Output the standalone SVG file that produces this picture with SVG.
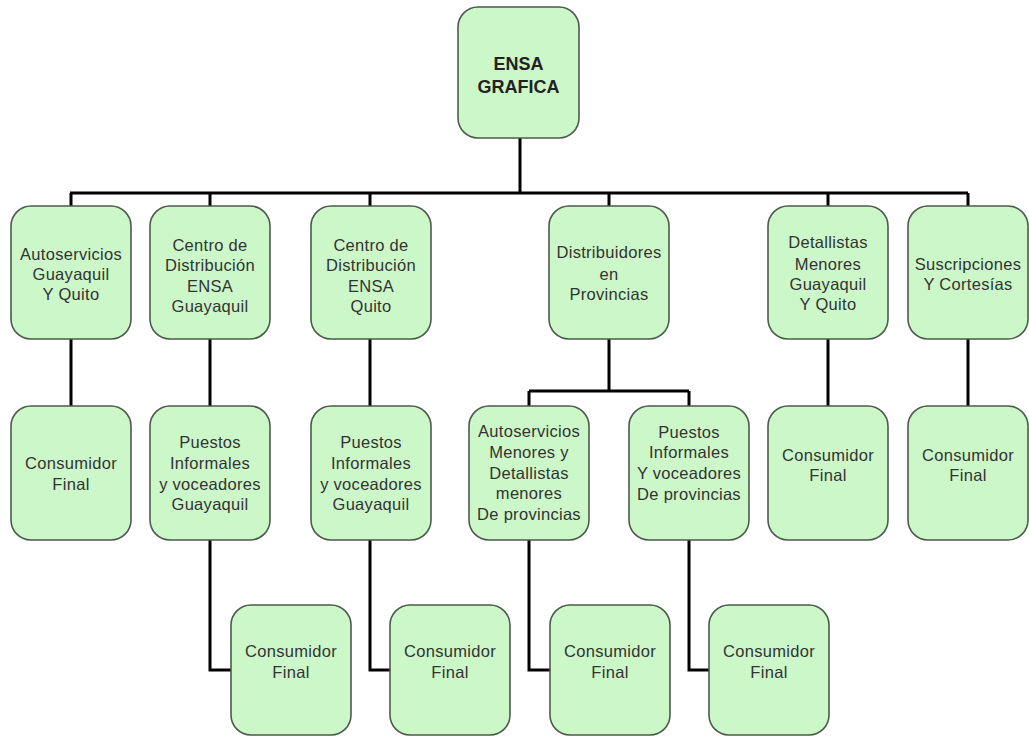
<svg xmlns="http://www.w3.org/2000/svg" width="1029" height="736" viewBox="0 0 1029 736">
<style>
.box{fill:#ccf7c8;stroke:#4d5a4d;stroke-width:1.6}
.t{font-family:"Liberation Sans",Arial,sans-serif;font-size:16.5px;fill:#333;text-anchor:middle;letter-spacing:0.3px}
.b{font-family:"Liberation Sans",Arial,sans-serif;font-size:18px;font-weight:bold;fill:#222;text-anchor:middle}
.c{fill:none;stroke:#000;stroke-width:3}
</style>
<rect width="1029" height="736" fill="#fff"/>
<g id="connectors">
<path class="c" d="M520 138V193M70 193H968M71 193V206M210 193V206M370 193V206M609 193V206M828 193V206M968 193V206"/>
<path class="c" d="M71 339V406M210 339V406M370 339V406M828 339V406M968 339V406"/>
<path class="c" d="M609 339V391M529 391H689M529 391V406M689 391V406"/>
<path class="c" d="M210 540V670H231M370 540V670H390M529 540V670H550M689 540V670H709"/>
</g>
<g id="n0"><rect class="box" x="458" y="7" width="121" height="131" rx="20"/><text class="b" x="518.5" y="70">ENSA</text><text class="b" x="518.5" y="93">GRAFICA</text></g>
<g id="n1"><rect class="box" x="11" y="206" width="120" height="133" rx="20"/><text class="t" x="71" y="260">Autoservicios</text><text class="t" x="71" y="280">Guayaquil</text><text class="t" x="71" y="300">Y Quito</text></g>
<g id="n2"><rect class="box" x="150" y="206" width="120" height="133" rx="20"/><text class="t" x="210" y="251">Centro de</text><text class="t" x="210" y="271">Distribución</text><text class="t" x="210" y="292">ENSA</text><text class="t" x="210" y="312">Guayaquil</text></g>
<g id="n3"><rect class="box" x="311" y="206" width="120" height="133" rx="20"/><text class="t" x="371" y="251">Centro de</text><text class="t" x="371" y="271">Distribución</text><text class="t" x="371" y="292">ENSA</text><text class="t" x="371" y="312">Quito</text></g>
<g id="n4"><rect class="box" x="549" y="206" width="120" height="133" rx="20"/><text class="t" x="609" y="258">Distribuidores</text><text class="t" x="609" y="280">en</text><text class="t" x="609" y="300">Provincias</text></g>
<g id="n5"><rect class="box" x="768" y="206" width="120" height="133" rx="20"/><text class="t" x="828" y="248">Detallistas</text><text class="t" x="828" y="270">Menores</text><text class="t" x="828" y="290">Guayaquil</text><text class="t" x="828" y="310">Y Quito</text></g>
<g id="n6"><rect class="box" x="908" y="206" width="120" height="133" rx="20"/><text class="t" x="968" y="270">Suscripciones</text><text class="t" x="968" y="290">Y Cortesías</text></g>
<g id="n7"><rect class="box" x="11" y="406" width="120" height="134" rx="20"/><text class="t" x="71" y="469">Consumidor</text><text class="t" x="71" y="490">Final</text></g>
<g id="n8"><rect class="box" x="150" y="406" width="120" height="134" rx="20"/><text class="t" x="210" y="448">Puestos</text><text class="t" x="210" y="469">Informales</text><text class="t" x="210" y="490">y voceadores</text><text class="t" x="210" y="510">Guayaquil</text></g>
<g id="n9"><rect class="box" x="311" y="406" width="120" height="134" rx="20"/><text class="t" x="371" y="448">Puestos</text><text class="t" x="371" y="469">Informales</text><text class="t" x="371" y="490">y voceadores</text><text class="t" x="371" y="510">Guayaquil</text></g>
<g id="n10"><rect class="box" x="469" y="406" width="120" height="134" rx="20"/><text class="t" x="529" y="437">Autoservicios</text><text class="t" x="529" y="458">Menores y</text><text class="t" x="529" y="479">Detallistas</text><text class="t" x="529" y="499">menores</text><text class="t" x="529" y="520">De provincias</text></g>
<g id="n11"><rect class="box" x="629" y="406" width="120" height="134" rx="20"/><text class="t" x="689" y="438">Puestos</text><text class="t" x="689" y="458">Informales</text><text class="t" x="689" y="479">Y voceadores</text><text class="t" x="689" y="500">De provincias</text></g>
<g id="n12"><rect class="box" x="768" y="406" width="120" height="134" rx="20"/><text class="t" x="828" y="461">Consumidor</text><text class="t" x="828" y="481">Final</text></g>
<g id="n13"><rect class="box" x="908" y="406" width="120" height="134" rx="20"/><text class="t" x="968" y="461">Consumidor</text><text class="t" x="968" y="481">Final</text></g>
<g id="n14"><rect class="box" x="231" y="605" width="120" height="130" rx="20"/><text class="t" x="291" y="657">Consumidor</text><text class="t" x="291" y="678">Final</text></g>
<g id="n15"><rect class="box" x="390" y="605" width="120" height="130" rx="20"/><text class="t" x="450" y="657">Consumidor</text><text class="t" x="450" y="678">Final</text></g>
<g id="n16"><rect class="box" x="550" y="605" width="120" height="130" rx="20"/><text class="t" x="610" y="657">Consumidor</text><text class="t" x="610" y="678">Final</text></g>
<g id="n17"><rect class="box" x="709" y="605" width="120" height="130" rx="20"/><text class="t" x="769" y="657">Consumidor</text><text class="t" x="769" y="678">Final</text></g>
</svg>
